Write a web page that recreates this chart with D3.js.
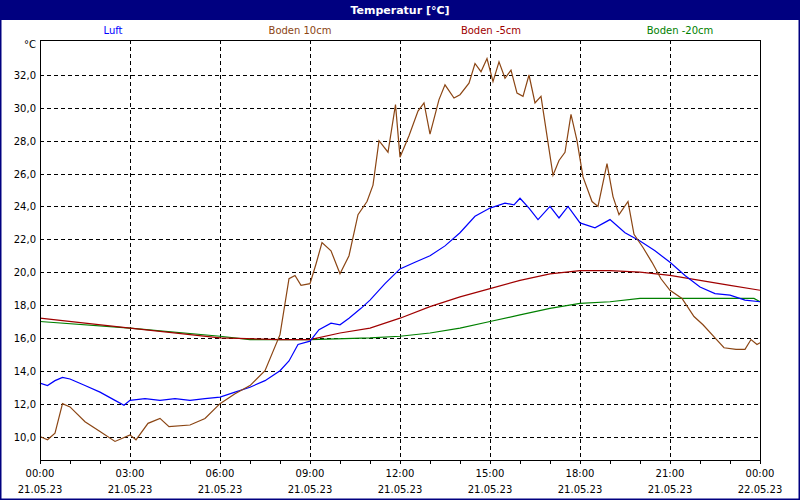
<!DOCTYPE html><html><head><meta charset="utf-8"><script src="https://cdn.jsdelivr.net/npm/d3@7"></script>
<style>body{margin:0;background:#fff}svg{display:block;font-family:"DejaVu Sans",sans-serif}</style></head><body><svg width="800" height="500"></svg><script>
const xTicks=[0,3,6,9,12,15,18,21,24];
const xTimeLabels=["00:00","03:00","06:00","09:00","12:00","15:00","18:00","21:00","00:00"];
const xDateLabels=["21.05.23","21.05.23","21.05.23","21.05.23","21.05.23","21.05.23","21.05.23","21.05.23","22.05.23"];
const yTicks=[10,12,14,16,18,20,22,24,26,28,30,32];
const seriesNames=["Luft","Boden 10cm","Boden -5cm","Boden -20cm"];
const seriesColors=["#0000ff","#8b4513","#a00000","#008000"];
const luft=[[0,13.25],[0.25,13.1],[0.5,13.4],[0.75,13.6],[1,13.5],[1.5,13.1],[2,12.7],[2.5,12.2],[2.8,11.9],[3,12.2],[3.5,12.3],[4,12.2],[4.5,12.3],[5,12.2],[5.5,12.3],[6,12.4],[6.5,12.7],[7,13.0],[7.5,13.4],[8,14.0],[8.3,14.6],[8.6,15.6],[9,15.8],[9.3,16.5],[9.7,16.9],[10,16.8],[10.3,17.2],[10.7,17.8],[11,18.3],[11.5,19.3],[12,20.2],[12.5,20.6],[13,21.0],[13.5,21.6],[14,22.4],[14.5,23.4],[15,23.9],[15.5,24.2],[15.8,24.1],[16,24.5],[16.3,23.9],[16.6,23.2],[17,24.0],[17.3,23.3],[17.6,24.0],[18,23.0],[18.5,22.7],[19,23.2],[19.5,22.4],[20,21.9],[20.5,21.3],[21,20.6],[21.5,19.8],[22,19.1],[22.5,18.7],[23,18.6],[23.5,18.3],[24,18.2]];
const boden10=[[0,10.0],[0.25,9.8],[0.5,10.2],[0.75,12.0],[1,11.8],[1.5,10.9],[2,10.3],[2.5,9.7],[3,10.1],[3.2,9.8],[3.6,10.8],[4,11.1],[4.3,10.6],[5,10.7],[5.5,11.1],[6,12.0],[6.5,12.6],[7,13.1],[7.5,14.0],[8,16.2],[8.3,19.6],[8.5,19.8],[8.7,19.2],[9,19.3],[9.2,20.5],[9.4,21.8],[9.7,21.3],[10,19.9],[10.3,21.0],[10.6,23.5],[10.9,24.3],[11.1,25.3],[11.3,28.0],[11.6,27.3],[11.85,30.2],[12,27.0],[12.3,28.3],[12.6,29.8],[12.8,30.3],[13,28.4],[13.3,30.5],[13.5,31.4],[13.8,30.6],[14,30.8],[14.3,31.5],[14.5,32.7],[14.7,32.2],[14.9,33.0],[15.1,31.6],[15.3,32.8],[15.5,31.8],[15.7,32.3],[15.9,30.9],[16.1,30.7],[16.3,32.0],[16.5,30.3],[16.7,30.7],[16.9,28.3],[17.1,25.9],[17.3,26.8],[17.5,27.3],[17.7,29.6],[17.9,28.0],[18.1,25.8],[18.4,24.3],[18.6,24.0],[18.9,26.6],[19.1,24.6],[19.3,23.5],[19.6,24.3],[19.8,22.3],[20.1,21.5],[20.4,20.6],[20.7,19.6],[21,18.9],[21.4,18.4],[21.8,17.3],[22.1,16.8],[22.5,16.0],[22.8,15.4],[23.2,15.3],[23.5,15.3],[23.7,15.9],[23.9,15.6],[24,15.7]];
const boden5=[[0,17.2],[3,16.6],[6,16.0],[8,15.9],[9,15.9],[10,16.3],[11,16.6],[12,17.2],[13,17.9],[14,18.5],[15,19.0],[16,19.5],[17,19.9],[18,20.1],[19,20.1],[20,20.0],[21,19.8],[22,19.5],[23,19.2],[24,18.9]];
const boden20=[[0,17.0],[3,16.6],[6,16.1],[7,15.9],[9,15.9],[11,16.0],[12,16.1],[13,16.3],[14,16.6],[15,17.0],[16,17.4],[17,17.8],[18,18.1],[19,18.2],[20,18.4],[21,18.4],[22,18.4],[23,18.4],[23.8,18.4],[24,18.2]];
const all=[luft,boden10,boden5,boden20];
const svg=d3.select("svg");
svg.append("rect").attr("x",0.5).attr("y",0.5).attr("width",799).attr("height",499).attr("fill","#fff").attr("stroke","#000080").attr("stroke-width",2);
svg.append("rect").attr("x",0).attr("y",0).attr("width",800).attr("height",20).attr("fill","#000080");
svg.append("text").attr("x",400).attr("y",14).attr("text-anchor","middle").attr("fill","#fff").attr("font-weight","bold").attr("font-size",11).text("Temperatur [°C]");
const x=d3.scaleLinear().domain([0,24]).range([40,760]);
const y=d3.scaleLinear().domain([10,32]).range([436.5,75]);
const pTop=40,pBot=460;
const g=svg.append("g");
g.selectAll(".vg").data(xTicks.slice(1,-1)).join("line").attr("x1",d=>x(d)+0.5).attr("x2",d=>x(d)+0.5).attr("y1",pTop).attr("y2",pBot).attr("stroke","#000").attr("stroke-dasharray","4,3");
g.selectAll(".hg").data(yTicks).join("line").attr("x1",40).attr("x2",760).attr("y1",d=>Math.round(y(d))+0.5).attr("y2",d=>Math.round(y(d))+0.5).attr("stroke","#000").attr("stroke-dasharray","4,3");
g.selectAll(".yl").data(yTicks).join("text").attr("x",36).attr("y",d=>y(d)+4).attr("text-anchor","end").attr("font-size",10).text(d=>d.toFixed(1).replace(".",","));
svg.append("text").attr("x",36).attr("y",48).attr("text-anchor","end").attr("font-size",10).text("°C");
const line=d3.line().x(d=>x(d[0])).y(d=>y(d[1]));
[3,2,0,1].forEach(i=>svg.append("path").attr("d",line(all[i])).attr("fill","none").attr("stroke",seriesColors[i]).attr("stroke-width",1.2));
svg.append("rect").attr("x",40.5).attr("y",pTop+0.5).attr("width",720).attr("height",pBot-pTop).attr("fill","none").attr("stroke","#000");
const ax=svg.append("g").attr("transform",`translate(0,${pBot})`).call(d3.axisBottom(x).tickValues(d3.range(0,25)).tickFormat("").tickSizeOuter(0).tickSize(4));
ax.select(".domain").remove();
[113,300,491,680].forEach((px,i)=>svg.append("text").attr("x",px).attr("y",34).attr("text-anchor","middle").attr("font-size",10).attr("fill",seriesColors[i]).text(seriesNames[i]));
svg.selectAll(".xt").data(xTicks).join("text").attr("x",d=>x(d)).attr("y",477).attr("text-anchor","middle").attr("font-size",10).text((d,i)=>xTimeLabels[i]);
svg.selectAll(".xd").data(xTicks).join("text").attr("x",d=>x(d)).attr("y",493).attr("text-anchor","middle").attr("font-size",10).text((d,i)=>xDateLabels[i]);
</script></body></html>
